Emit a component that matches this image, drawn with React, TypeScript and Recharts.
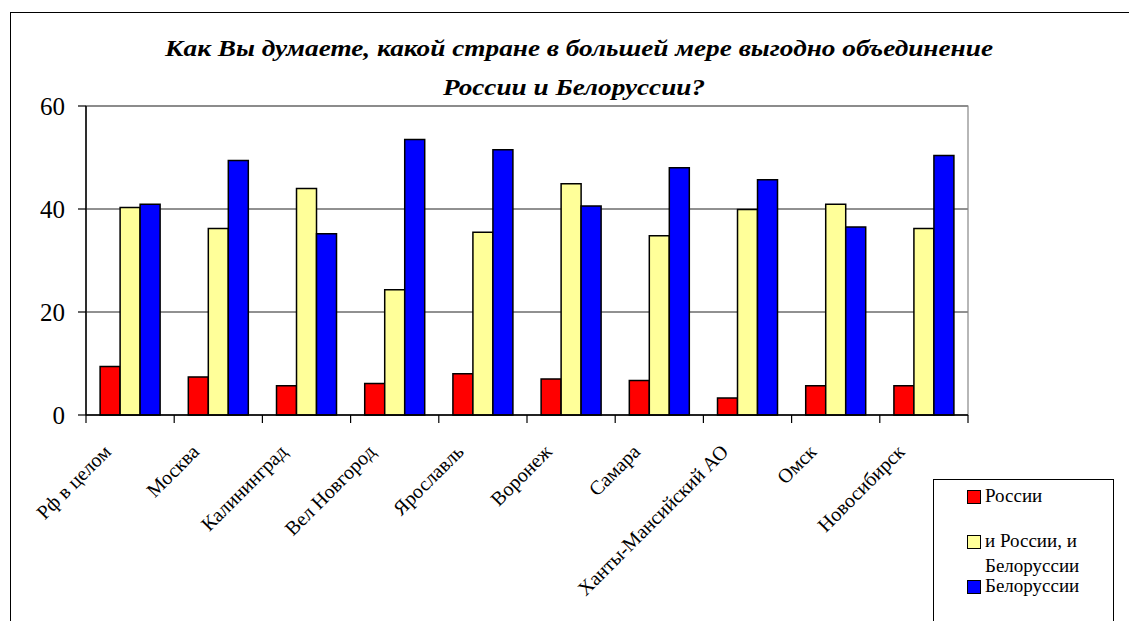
import { BarChart, Bar, XAxis, YAxis, CartesianGrid, ReferenceArea } from 'recharts'

const categories = [
    'Рф в целом',
    'Москва',
    'Калининград',
    'Вел Новгород',
    'Ярославль',
    'Воронеж',
    'Самара',
    'Ханты-Мансийский АО',
    'Омск',
    'Новосибирск',
]

// share of answers, %
const russia = [9.4, 7.4, 5.7, 6.1, 8.0, 7.0, 6.7, 3.3, 5.7, 5.7]
const both = [40.3, 36.2, 44.0, 24.3, 35.5, 44.9, 34.8, 39.9, 40.9, 36.2]
const belarus = [40.9, 49.4, 35.2, 53.5, 51.5, 40.6, 48.0, 45.7, 36.5, 50.4]

const yTicks = [0, 20, 40, 60]

const seriesNames = ['России', 'и России, и Белоруссии', 'Белоруссии']
const seriesColors = ['#ff0000', '#ffff99', '#0000ff']

const titleLines = [
    'Как Вы думаете, какой стране в большей мере выгодно объединение',
    'России и Белоруссии?',
]

const data = categories.map((name, i) => ({
    name,
    russia: russia[i],
    both: both[i],
    belarus: belarus[i],
}))

const serif = "'Liberation Serif', 'Times New Roman', Times, 'DejaVu Serif', serif"

function CategoryTick(props: any) {
    const { x, y, payload, index } = props
    const off = payload?.offset ?? 44
    const tx = x - 18
    const ty = y + 38
    return (
        <g>
            <line x1={x - off} y1={y} x2={x - off} y2={y + 8} stroke="#000" strokeWidth={1.2} />
            {index === categories.length - 1 && (
                <line x1={x + off} y1={y} x2={x + off} y2={y + 8} stroke="#000" strokeWidth={1.2} />
            )}
            <text
                x={tx}
                y={ty}
                transform={`rotate(-45, ${tx}, ${ty})`}
                textAnchor="end"
                fontSize={20}
                style={{ fontFamily: serif }}
                fill="#000"
            >
                {payload.value}
            </text>
        </g>
    )
}

function ValueTick(props: any) {
    const { x, y, payload } = props
    return (
        <text x={x} y={y} dy="0.35em" textAnchor="end" fontSize={25} style={{ fontFamily: serif }} fill="#000">
            {payload.value}
        </text>
    )
}

function LegendBox() {
    const tops = [3, 48, 93]
    return (
        <div
            style={{
                position: 'absolute',
                left: 933,
                top: 479,
                width: 179,
                height: 200,
                border: '1.5px solid #000',
                background: '#fff',
                fontFamily: serif,
                fontSize: 19,
                lineHeight: '25px',
                color: '#000',
            }}
        >
            {seriesNames.map((n, i) => (
                <div key={n} style={{ position: 'absolute', left: 33, top: tops[i], display: 'flex' }}>
                    <span
                        style={{
                            width: 12,
                            height: 12,
                            marginTop: 7,
                            marginRight: 4,
                            background: seriesColors[i],
                            border: '1.5px solid #000',
                            flex: 'none',
                        }}
                    />
                    <span style={{ width: 118 }}>{n}</span>
                </div>
            ))}
        </div>
    )
}

export default function App() {
    return (
        <div style={{ position: 'absolute', left: 0, top: 0, width: 1129, height: 621, overflow: 'hidden', background: '#fff' }}>
            <div
                style={{
                    position: 'absolute',
                    left: 10,
                    top: 12,
                    width: 1200,
                    height: 700,
                    border: '1.5px solid #000',
                }}
            />
            <BarChart
                width={1129}
                height={621}
                data={data}
                margin={{ top: 106, right: 161, bottom: 0, left: 0 }}
                barCategoryGap="16%"
                barGap={0}
            >
                <CartesianGrid vertical={false} stroke="#222" strokeWidth={1} />
                <ReferenceArea y1={0} y2={60} fill="none" stroke="#888" strokeWidth={1.2} ifOverflow="visible" />
                <XAxis
                    dataKey="name"
                    interval={0}
                    height={206}
                    tickSize={0}
                    tickMargin={0}
                    tickLine={false}
                    axisLine={{ stroke: '#000', strokeWidth: 1.5 }}
                    tick={<CategoryTick />}
                />
                <YAxis
                    domain={[0, 60]}
                    ticks={yTicks}
                    width={86}
                    tickSize={8}
                    tickMargin={13}
                    axisLine={{ stroke: '#000', strokeWidth: 1.5 }}
                    tickLine={{ stroke: '#000', strokeWidth: 1.2 }}
                    tick={<ValueTick />}
                />
                <Bar dataKey="russia" name={seriesNames[0]} fill={seriesColors[0]} stroke="#000" strokeWidth={1.5} isAnimationActive={false} />
                <Bar dataKey="both" name={seriesNames[1]} fill={seriesColors[1]} stroke="#000" strokeWidth={1.5} isAnimationActive={false} />
                <Bar dataKey="belarus" name={seriesNames[2]} fill={seriesColors[2]} stroke="#000" strokeWidth={1.5} isAnimationActive={false} />
            </BarChart>
            <LegendBox />
            <svg width={1129} height={110} style={{ position: 'absolute', left: 0, top: 0, pointerEvents: 'none' }}>
                <text
                    x={579}
                    y={56}
                    textAnchor="middle"
                    textLength={828}
                    lengthAdjust="spacingAndGlyphs"
                    style={{ fontFamily: serif }}
                    fontWeight="bold"
                    fontStyle="italic"
                    fontSize={24}
                >
                    {titleLines[0]}
                </text>
                <text
                    x={574}
                    y={95}
                    textAnchor="middle"
                    textLength={262}
                    lengthAdjust="spacingAndGlyphs"
                    style={{ fontFamily: serif }}
                    fontWeight="bold"
                    fontStyle="italic"
                    fontSize={24}
                >
                    {titleLines[1]}
                </text>
            </svg>
        </div>
    )
}
